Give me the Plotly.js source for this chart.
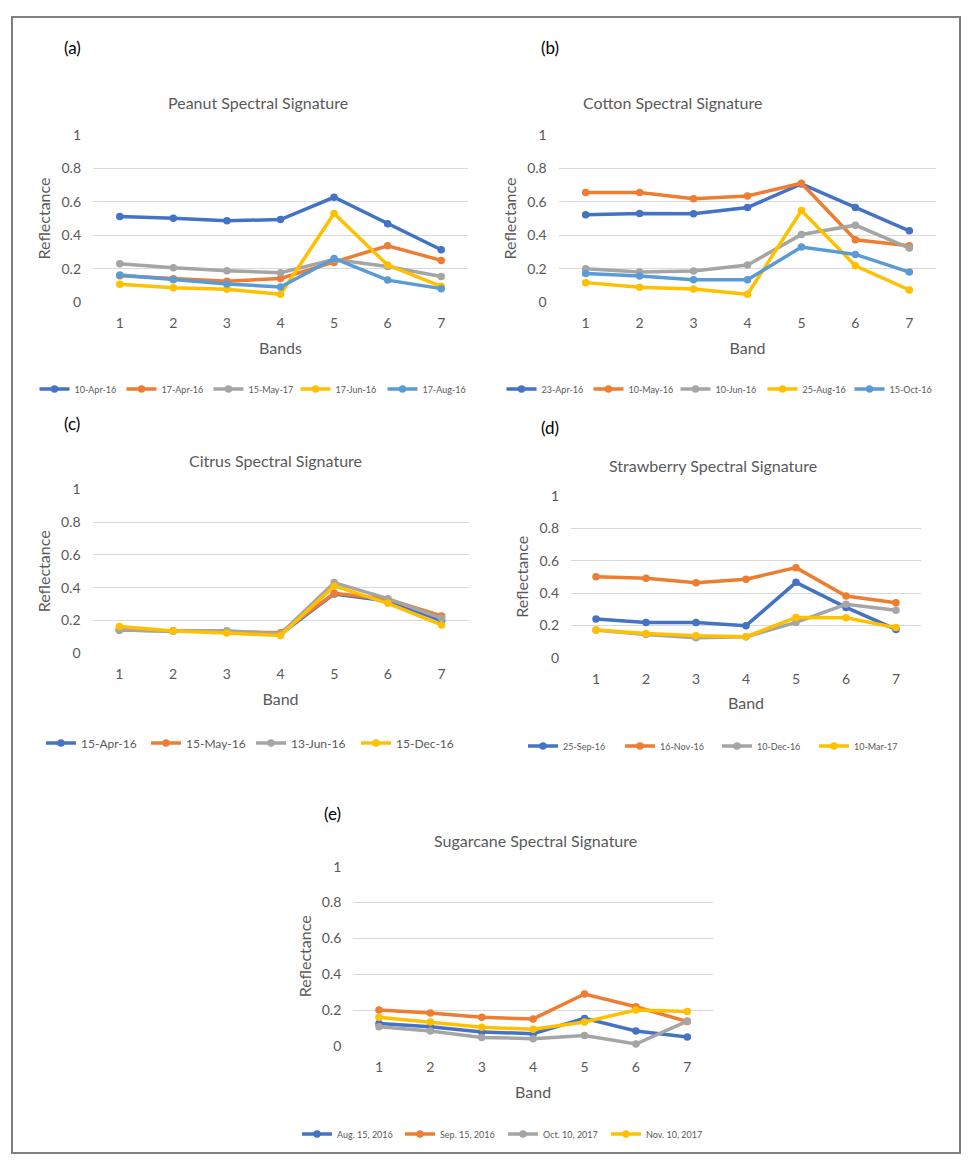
<!DOCTYPE html>
<html>
<head>
<meta charset="utf-8">
<script src="https://cdn.plot.ly/plotly-3.0.1.min.js"></script>
<style>html,body{margin:0;padding:0;background:#fff;}#chart{width:976px;height:1169px;}</style>
</head>
<body>
<div id="chart"></div>
<script>
// ---------- data ----------
const bands = [1, 2, 3, 4, 5, 6, 7];

const peanutDates = ["10-Apr-16", "17-Apr-16", "15-May-17", "17-Jun-16", "17-Aug-16"];
const peanut10Apr = [0.512, 0.502, 0.486, 0.494, 0.627, 0.468, 0.313];
const peanut17Apr = [0.157, 0.139, 0.124, 0.141, 0.237, 0.337, 0.249];
const peanut15May = [0.229, 0.205, 0.187, 0.175, 0.255, 0.213, 0.153];
const peanut17Jun = [0.106, 0.086, 0.076, 0.046, 0.530, 0.221, 0.094];
const peanut17Aug = [0.161, 0.133, 0.108, 0.090, 0.261, 0.131, 0.080];

const cottonDates = ["23-Apr-16", "10-May-16", "10-Jun-16", "25-Aug-16", "15-Oct-16"];
const cotton23Apr = [0.522, 0.530, 0.528, 0.566, 0.707, 0.566, 0.426];
const cotton10May = [0.655, 0.655, 0.618, 0.635, 0.711, 0.373, 0.337];
const cotton10Jun = [0.199, 0.179, 0.185, 0.221, 0.404, 0.460, 0.323];
const cotton25Aug = [0.116, 0.088, 0.078, 0.046, 0.548, 0.217, 0.072];
const cotton15Oct = [0.171, 0.155, 0.133, 0.133, 0.329, 0.285, 0.179];

const citrusDates = ["15-Apr-16", "15-May-16", "13-Jun-16", "15-Dec-16"];
const citrus15Apr = [0.142, 0.136, 0.132, 0.116, 0.362, 0.319, 0.199];
const citrus15May = [0.142, 0.136, 0.132, 0.126, 0.366, 0.329, 0.228];
const citrus13Jun = [0.142, 0.136, 0.138, 0.118, 0.431, 0.333, 0.213];
const citrus15Dec = [0.163, 0.136, 0.124, 0.108, 0.411, 0.305, 0.173];

const strawDates = ["25-Sep-16", "16-Nov-16", "10-Dec-16", "10-Mar-17"];
const straw25Sep = [0.239, 0.218, 0.218, 0.198, 0.466, 0.311, 0.175];
const straw16Nov = [0.501, 0.491, 0.464, 0.485, 0.557, 0.381, 0.340];
const straw10Dec = [0.171, 0.144, 0.124, 0.130, 0.218, 0.330, 0.293];
const straw10Mar = [0.171, 0.150, 0.136, 0.130, 0.249, 0.247, 0.186];

const sugarDates = ["Aug. 15, 2016", "Sep. 15, 2016", "Oct. 10, 2017", "Nov. 10, 2017"];
const sugarAug15 = [0.126, 0.108, 0.078, 0.069, 0.154, 0.084, 0.050];
const sugarSep15 = [0.201, 0.184, 0.160, 0.151, 0.290, 0.219, 0.136];
const sugarOct10 = [0.108, 0.084, 0.048, 0.041, 0.059, 0.011, 0.139];
const sugarNov10 = [0.160, 0.134, 0.104, 0.093, 0.134, 0.201, 0.192];

const yTicks = [0, 0.2, 0.4, 0.6, 0.8, 1];
const yTickText = ["0", "0.2", "0.4", "0.6", "0.8", "1"];

// ---------- styling ----------
const W = 976, H = 1169;
const FONT = "Lato, 'Open Sans', sans-serif";
const GRAY_TXT = "#595959";
const COLORS = ["#4472C4", "#ED7D31", "#A5A5A5", "#FFC000", "#5B9BD5"];
const px = v => v / W;
const py = v => 1 - v / H;

const panels = [
  {key: "", dates: peanutDates, series: [peanut10Apr, peanut17Apr, peanut15May, peanut17Jun, peanut17Aug],
   x: [93, 468], y: [135, 302], xtitle: "Bands", legend: "legend"},
  {key: "2", dates: cottonDates, series: [cotton23Apr, cotton10May, cotton10Jun, cotton25Aug, cotton15Oct],
   x: [558.7, 936.3], y: [135, 302], xtitle: "Band", legend: "legend2"},
  {key: "3", dates: citrusDates, series: [citrus15Apr, citrus15May, citrus13Jun, citrus15Dec],
   x: [92.5, 468.5], y: [489.3, 653.3], xtitle: "Band", legend: "legend3"},
  {key: "4", dates: strawDates, series: [straw25Sep, straw16Nov, straw10Dec, straw10Mar],
   x: [571, 921], y: [496, 657.7], xtitle: "Band", legend: "legend4"},
  {key: "5", dates: sugarDates, series: [sugarAug15, sugarSep15, sugarOct10, sugarNov10],
   x: [353.3, 713], y: [866.7, 1046], xtitle: "Band", legend: "legend5"}
];

const traces = [];
const layout = {
  width: W, height: H,
  margin: {l: 0, r: 0, t: 0, b: 0},
  paper_bgcolor: "#fff", plot_bgcolor: "#fff",
  font: {family: FONT, color: GRAY_TXT, size: 14},
  showlegend: true,
  annotations: [], shapes: []
};

panels.forEach((p, i) => {
  p.series.forEach((vals, j) => {
    traces.push({
      type: "scatter", mode: "lines+markers",
      x: bands, y: vals, name: p.dates[j],
      xaxis: "x" + p.key, yaxis: "y" + p.key,
      legend: p.legend,
      line: {color: COLORS[j], width: 3.5},
      marker: {color: COLORS[j], size: 7.5, symbol: "circle"},
      cliponaxis: false,
      hoverinfo: "x+y+name"
    });
  });
  layout["xaxis" + p.key] = {
    domain: [px(p.x[0]), px(p.x[1])],
    anchor: "y" + p.key,
    range: [0.5, 7.5],
    tickvals: bands, ticktext: bands.map(String),
    showgrid: false, zeroline: false, showline: false, ticks: "",
    tickfont: {size: 14, color: GRAY_TXT, family: FONT},
    ticklabelstandoff: 11,
    automargin: false,
    title: {text: p.xtitle, font: {size: 16, color: GRAY_TXT, family: FONT}, standoff: 12},
    fixedrange: true
  };
  layout["yaxis" + p.key] = {
    domain: [py(p.y[1]), py(p.y[0])],
    anchor: "x" + p.key,
    range: [0, 1],
    tickvals: yTicks, ticktext: yTickText,
    showgrid: true, gridcolor: "#D9D9D9", gridwidth: 1,
    zeroline: false, showline: false, ticks: "",
    tickfont: {size: 14, color: GRAY_TXT, family: FONT},
    ticklabelstandoff: 11,
    automargin: false,
    title: {text: "Reflectance", font: {size: 16, color: GRAY_TXT, family: FONT}, standoff: 6},
    fixedrange: true
  };
});

// legends
const legendDefs = [
  {name: "legend", cx: 252, cy: 389, size: 9, ew: 42},
  {name: "legend2", cx: 719, cy: 389, size: 9, ew: 42},
  {name: "legend3", cx: 251, cy: 743, size: 12, ew: 60},
  {name: "legend4", cx: 717, cy: 746, size: 9, ew: 52},
  {name: "legend5", cx: 503, cy: 1134, size: 9, ew: 58}
];
legendDefs.forEach(l => {
  layout[l.name] = {
    orientation: "h", x: px(l.cx), y: py(l.cy), xanchor: "center", yanchor: "middle",
    font: {size: l.size, color: GRAY_TXT, family: FONT},
    bgcolor: "rgba(0,0,0,0)", borderwidth: 0,
    entrywidth: l.ew, entrywidthmode: "pixels",
    itemwidth: 30, tracegroupgap: 0
  };
});

// panel labels and titles
const labels = [
  {t: "(a)", x: 72, y: 47}, {t: "(b)", x: 550, y: 47},
  {t: "(c)", x: 72, y: 423}, {t: "(d)", x: 550, y: 427},
  {t: "(e)", x: 332, y: 813}
];
labels.forEach(l => layout.annotations.push({
  text: l.t, x: px(l.x), y: py(l.y), xref: "paper", yref: "paper",
  showarrow: false, xanchor: "center", yanchor: "middle",
  font: {size: 17, color: "#000", family: FONT}
}));
const titles = [
  {t: "Peanut Spectral Signature", x: 258, y: 103},
  {t: "Cotton Spectral Signature", x: 672, y: 103},
  {t: "Citrus Spectral Signature", x: 275, y: 460},
  {t: "Strawberry Spectral Signature", x: 713, y: 465},
  {t: "Sugarcane Spectral Signature", x: 535, y: 840}
];
titles.forEach(l => layout.annotations.push({
  text: l.t, x: px(l.x), y: py(l.y), xref: "paper", yref: "paper",
  showarrow: false, xanchor: "center", yanchor: "middle",
  font: {size: 16, color: GRAY_TXT, family: FONT}
}));

// outer frame
layout.shapes.push({
  type: "rect", xref: "paper", yref: "paper",
  x0: px(12), x1: px(960), y0: py(17), y1: py(1153),
  line: {color: "#7F7F7F", width: 2}, fillcolor: "rgba(0,0,0,0)", layer: "below"
});

Plotly.newPlot("chart", traces, layout, {displayModeBar: false, staticPlot: false});
</script>
</body>
</html>
